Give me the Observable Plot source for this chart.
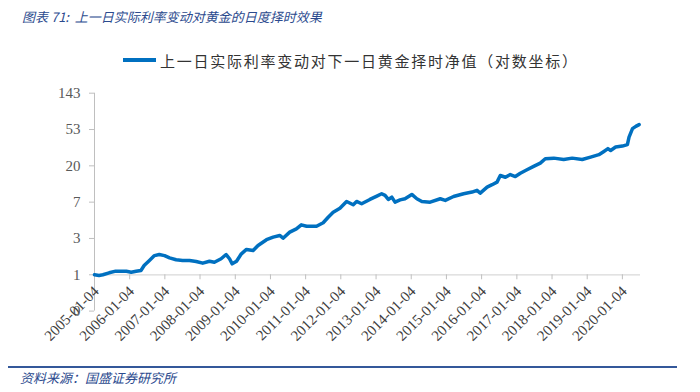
<!DOCTYPE html>
<html>
<head>
<meta charset="utf-8">
<script src="https://cdn.jsdelivr.net/npm/d3@7"></script>
<script src="https://cdn.jsdelivr.net/npm/@observablehq/plot@0.6"></script>
<style>
  html, body { margin: 0; padding: 0; background: #fff; }
  #wrap { position: relative; width: 700px; height: 392px; overflow: hidden; }
  #title { position: absolute; left: 22px; top: 7px; font: italic 13px "Noto Sans CJK SC", sans-serif; color: #2b4a8e; white-space: nowrap; }
  #legend { position: absolute; left: 123px; top: 49px; height: 22px; display: flex; align-items: center; white-space: nowrap; }
  #legend .sw { width: 33px; height: 4px; background: #0070C0; margin-right: 4px; }
  #legend .lt { font: 15px "Noto Sans CJK SC", sans-serif; letter-spacing: 1.75px; color: #333; }
  #rule { position: absolute; left: 8px; top: 366px; width: 669px; height: 2px; background: #34589a; }
  #source { position: absolute; left: 20px; top: 368px; font: italic 13px "Noto Sans CJK SC", sans-serif; color: #2b4a8e; white-space: nowrap; }
  #chart { position: absolute; left: 0; top: 0; }
</style>
</head>
<body>
<div id="wrap">
  <div id="chart"></div>
  <div id="title">图表 71:&nbsp; 上一日实际利率变动对黄金的日度择时效果</div>
  <div id="legend"><div class="sw"></div><div class="lt">上一日实际利率变动对下一日黄金择时净值（对数坐标）</div></div>
  <div id="rule"></div>
  <div id="source">资料来源：国盛证券研究所</div>
</div>
<script>
// Series: net value of daily gold timing strategy (log scale)
const dates = [
  "2005-01-04","2005-02-20","2005-04-01","2005-06-05","2005-08-12","2005-12-01","2006-01-20","2006-03-12","2006-05-01",
  "2006-06-03","2006-07-28","2006-09-18","2006-11-07","2007-01-01","2007-02-22","2007-05-01","2007-07-07","2007-09-17",
  "2007-11-25","2008-02-01","2008-04-11","2008-06-01","2008-08-10","2008-10-01","2008-11-05","2008-12-03","2009-01-17",
  "2009-03-08","2009-04-30","2009-07-08","2009-08-28","2009-11-24","2010-02-01","2010-04-10","2010-05-15","2010-07-23",
  "2010-09-30","2010-11-20","2011-01-14","2011-04-27","2011-07-05","2011-08-26","2011-10-17","2011-12-26","2012-03-04",
  "2012-05-12","2012-06-16","2012-08-07","2012-11-01","2013-01-12","2013-03-03","2013-04-07","2013-05-11","2013-06-16",
  "2013-07-20","2013-09-10","2013-10-31","2014-01-10","2014-03-03","2014-04-24","2014-07-19","2014-11-01","2014-12-23",
  "2015-03-19","2015-07-01","2015-09-27","2015-11-17","2015-12-21","2016-03-01","2016-04-22","2016-06-12","2016-07-16",
  "2016-09-07","2016-10-28","2016-12-19","2017-02-09","2017-04-19","2017-06-27","2017-09-04","2017-10-26","2018-01-22",
  "2018-05-05","2018-08-01","2018-11-13","2019-02-08","2019-05-05","2019-06-26","2019-08-07","2019-09-04","2019-10-26",
  "2020-01-04","2020-02-25","2020-03-13","2020-04-18","2020-05-22","2020-06-26"
];
const values = [
  1.00,0.98,1.00,1.056,1.104,1.10,1.074,1.10,1.125,
  1.29,1.48,1.69,1.74,1.69,1.59,1.51,1.48,1.48,
  1.44,1.374,1.45,1.41,1.55,1.74,1.55,1.35,1.45,
  1.775,2.00,1.94,2.23,2.61,2.80,2.93,2.72,3.21,
  3.51,3.92,3.77,3.77,4.15,4.83,5.54,6.18,7.43,
  6.79,7.43,6.98,7.85,8.60,9.18,8.77,7.85,8.37,
  7.29,7.75,8.0,9.0,8.0,7.43,7.29,8.0,7.65,
  8.5,9.18,9.6,10.07,9.34,11.0,11.75,12.6,15.1,
  14.4,15.5,14.7,16.1,17.7,19.4,21.2,23.9,24.3,
  23.4,24.3,23.4,25.0,26.7,29.2,31.5,30.0,32.9,
  33.8,35.1,43.2,54.4,57.9,60.7
];
// Axis ticks
const yTickValues = [0.3704, 1, 2.7, 7.29, 19.683, 53.144, 143.489];
const yTickLabels = ["0", "1", "3", "7", "20", "53", "143"];
const xTickLabels = [
  "2005-01-04","2006-01-04","2007-01-04","2008-01-04","2009-01-04","2010-01-04","2011-01-04","2012-01-04",
  "2013-01-04","2014-01-04","2015-01-04","2016-01-04","2017-01-04","2018-01-04","2019-01-04","2020-01-04"
];
const xDomain = ["2005-01-04", "2020-07-10"];

const rows = dates.map((d, i) => ({date: new Date(d), value: values[i]}));
const xTicks = xTickLabels.map(s => ({date: new Date(s), label: s}));
const yTicks = yTickValues.map((v, i) => ({value: v, label: yTickLabels[i]}));
const x0 = new Date(xDomain[0]);

const chart = Plot.plot({
  width: 700,
  height: 392,
  marginLeft: 94,
  marginRight: 60,
  marginTop: 92.7,
  marginBottom: 81.4,
  style: {fontFamily: "'Liberation Serif', serif", fontSize: "15px", background: "transparent"},
  x: {type: "utc", domain: xDomain.map(s => new Date(s)), axis: null},
  y: {type: "log", domain: [yTickValues[0], yTickValues[yTickValues.length - 1]], axis: null},
  marks: [
    // y axis line
    Plot.ruleX([x0], {stroke: "#bfbfbf", strokeWidth: 1}),
    // y ticks
    Plot.ruleY(yTicks, {y: "value", x1: () => x0, x2: () => x0, insetLeft: -5, stroke: "#bfbfbf"}),
    // y labels
    Plot.text(yTicks, {y: "value", x: () => x0, text: "label", textAnchor: "end", dx: -14, fill: "#595959", fontSize: 15}),
    // x axis line at value 1
    Plot.ruleY([1], {stroke: "#d9d9d9", strokeWidth: 1.2}),
    // x ticks
    Plot.ruleX(xTicks, {x: "date", y1: () => 1, y2: () => 1, insetBottom: -5, stroke: "#bfbfbf"}),
    // x tick labels
    Plot.text(xTicks, {
      x: "date", y: () => 1, text: "label",
      rotate: -45, textAnchor: "end", dy: 14, dx: 2,
      fill: "#404040", fontSize: 15
    }),
    // data line
    Plot.line(rows, {x: "date", y: "value", stroke: "#0070C0", strokeWidth: 3.5, strokeLinejoin: "round"})
  ]
});
document.getElementById("chart").appendChild(chart);
</script>
</body>
</html>
